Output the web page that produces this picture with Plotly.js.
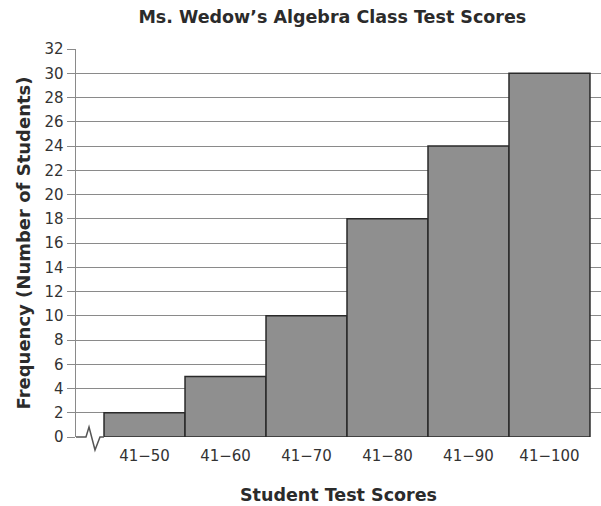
<!DOCTYPE html>
<html>
<head>
<meta charset="utf-8">
<script src="https://cdn.plot.ly/plotly-3.0.1.min.js"></script>
<style>html,body{margin:0;padding:0;background:#fff;}#chart{width:601px;height:506px;}</style>
</head>
<body>
<div id="chart"></div>
<script>
const categories = ["41\u221250", "41\u221260", "41\u221270", "41\u221280", "41\u221290", "41\u2212100"];
const frequencies = [2, 5, 10, 18, 24, 30];
const yTickVals = [0, 2, 4, 6, 8, 10, 12, 14, 16, 18, 20, 22, 24, 26, 28, 30, 32];

const trace = {
  type: "bar",
  x: categories,
  y: frequencies,
  marker: { color: "#8f8f8f", line: { color: "#2a2a2a", width: 1.5 } },
  hoverinfo: "x+y"
};

const layout = {
  width: 601, height: 506,
  margin: { l: 76, r: 0, t: 49, b: 69 },
  paper_bgcolor: "#fff", plot_bgcolor: "#fff",
  bargap: 0,
  showlegend: false,
  font: { family: "DejaVu Sans, sans-serif", color: "#333" },
  title: {
    text: "<b>Ms. Wedow\u2019s Algebra Class Test Scores</b>",
    font: { size: 17.5, color: "#2b2b2b" },
    x: 0.553, xanchor: "center", y: 0.978, yanchor: "top"
  },
  xaxis: {
    type: "category",
    range: [-0.846, 5.636],
    showgrid: false, zeroline: false, showline: false,
    ticks: "outside", ticklen: 5, tickcolor: "rgba(0,0,0,0)",
    tickfont: { size: 15, color: "#333" },
    title: { text: "<b>Student Test Scores</b>", font: { size: 17.5, color: "#2b2b2b" }, standoff: 24 }
  },
  yaxis: {
    range: [0, 32],
    tickvals: yTickVals,
    showgrid: true, gridcolor: "#8a8a8a", gridwidth: 1,
    zeroline: false,
    showline: true, linecolor: "#8a8a8a", linewidth: 1.5,
    ticks: "outside", ticklen: 8, tickcolor: "#8a8a8a",
    tickfont: { size: 15, color: "#333" },
    title: { text: "<b>Frequency (Number of Students)</b>", font: { size: 18, color: "#2b2b2b" }, standoff: 9 }
  },
  shapes: [{
    type: "path", xref: "paper", yref: "paper",
    path: "M 0 0 L 0.019 0 L 0.0248 0.0258 L 0.0362 -0.0335 L 0.0457 0 L 0.0533 0",
    line: { color: "#555", width: 1.5 }
  }]
};

Plotly.newPlot("chart", [trace], layout, { displayModeBar: false, staticPlot: true });
</script>
</body>
</html>
